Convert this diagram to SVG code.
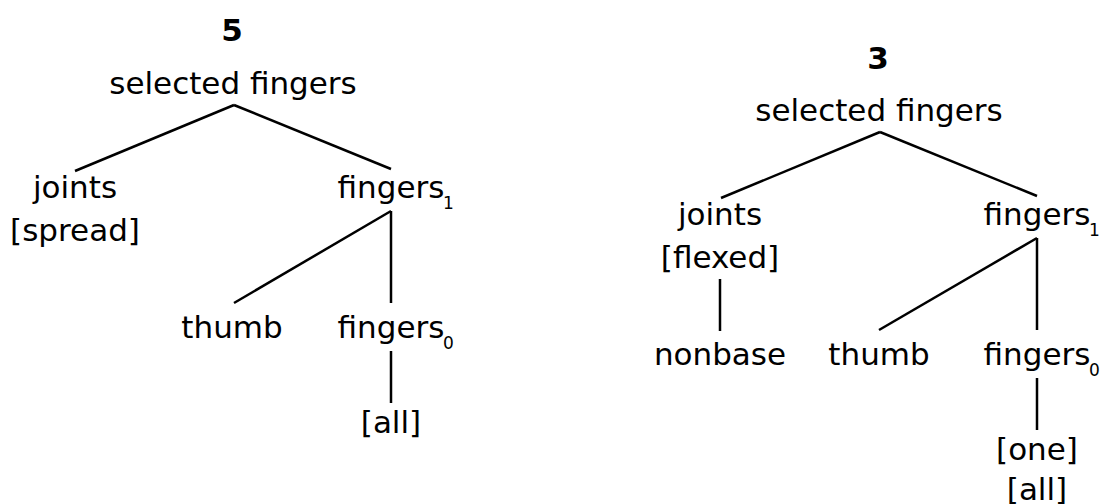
<svg xmlns="http://www.w3.org/2000/svg" width="1100" height="504" viewBox="0 0 1100 504">
<style>
text{font-family:"DejaVu Sans",sans-serif;font-size:31px;fill:#000;text-anchor:middle}
.b{font-weight:bold}
.sub{font-size:17px;text-anchor:start}
.c line{stroke:#000;stroke-width:2.5;stroke-linecap:butt}
</style>
<rect width="1100" height="504" fill="#fff"/>
<g class="c" id="connectors">
<line x1="234" y1="105" x2="75" y2="171"/>
<line x1="234" y1="105" x2="391" y2="169"/>
<line x1="391" y1="211" x2="234" y2="303"/>
<line x1="391" y1="211" x2="391" y2="303"/>
<line x1="391" y1="351" x2="391" y2="403"/>
<line x1="880" y1="132" x2="721" y2="198"/>
<line x1="880" y1="132" x2="1037" y2="196"/>
<line x1="720" y1="279" x2="720" y2="331"/>
<line x1="1037" y1="238" x2="879" y2="330"/>
<line x1="1037" y1="238" x2="1037" y2="330"/>
<line x1="1037" y1="378" x2="1037" y2="430"/>
</g>
<g id="title5"><text class="b" x="232" y="41">5</text></g>
<g id="sel1"><text x="233" y="94">selected fingers</text></g>
<g id="joints1"><text x="75" y="198">joints</text><text x="75" y="241">[spread]</text></g>
<g id="fingers1a"><text x="391" y="198">fingers</text><text class="sub" x="443" y="209">1</text></g>
<g id="thumb1"><text x="232" y="338">thumb</text></g>
<g id="fingers0a"><text x="391" y="338">fingers</text><text class="sub" x="443" y="349">0</text></g>
<g id="all1"><text x="391" y="433">[all]</text></g>
<g id="title3"><text class="b" x="878" y="69">3</text></g>
<g id="sel2"><text x="879" y="121">selected fingers</text></g>
<g id="joints2"><text x="720" y="225">joints</text><text x="720" y="268">[flexed]</text></g>
<g id="nonbase"><text x="720" y="365">nonbase</text></g>
<g id="fingers1b"><text x="1037" y="225">fingers</text><text class="sub" x="1089" y="236">1</text></g>
<g id="thumb2"><text x="879" y="365">thumb</text></g>
<g id="fingers0b"><text x="1037" y="365">fingers</text><text class="sub" x="1089" y="376">0</text></g>
<g id="oneall"><text x="1037" y="460">[one]</text><text x="1037" y="500">[all]</text></g>
</svg>
